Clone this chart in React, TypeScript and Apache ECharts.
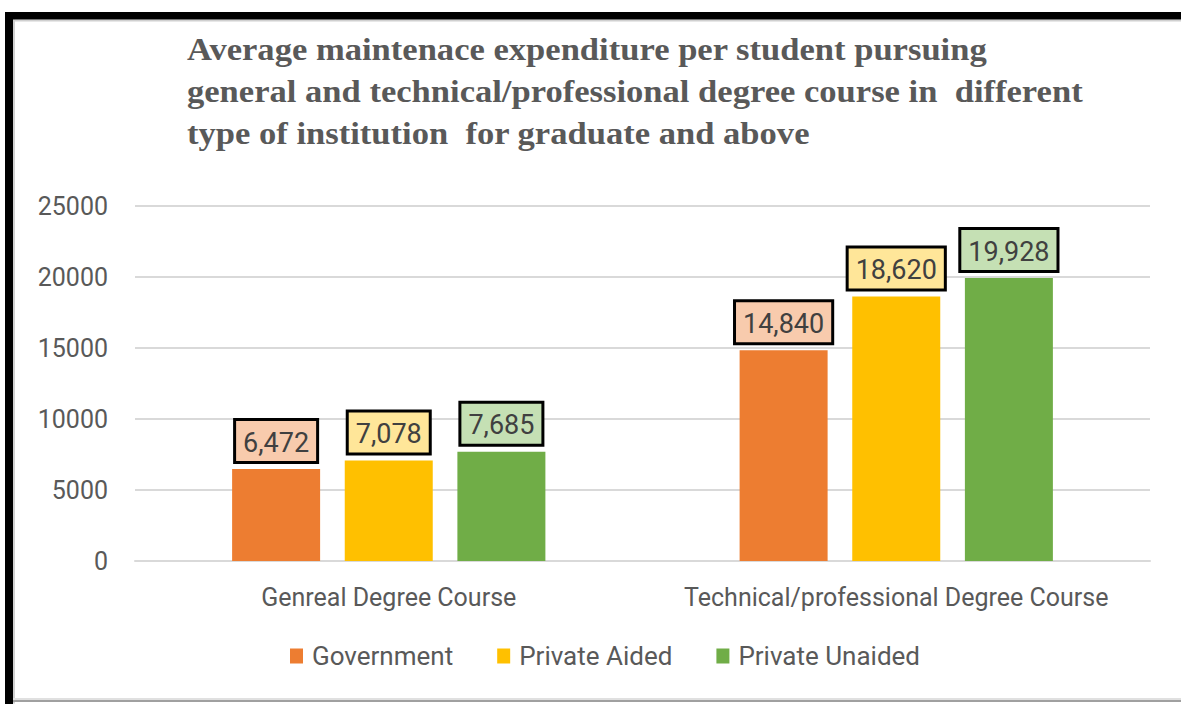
import React, { useEffect, useRef } from "react";
import * as echarts from "echarts";

const categories = ["Genreal Degree Course", "Technical/professional Degree Course"];
const seriesNames = ["Government", "Private Aided", "Private Unaided"];
const government = [6472, 14840];
const privateAided = [7078, 18620];
const privateUnaided = [7685, 19928];
const yTicks = [0, 5000, 10000, 15000, 20000, 25000];
const titleLines = [
  "Average maintenace expenditure per student pursuing",
  "general and technical/professional degree course in  different",
  "type of institution  for graduate and above",
];

const barColors = ["#ED7D31", "#FFC000", "#70AD47"];
const labelBg = ["#F8CBAD", "#FFE699", "#C5E0B4"];
const FONT = "Roboto, 'Noto Sans', sans-serif";

export default function App() {
  const ref = useRef<HTMLDivElement>(null);
  useEffect(() => {
    if (!ref.current) return;
    const chart = echarts.init(ref.current, null, { renderer: "svg" });
    const values = [government, privateAided, privateUnaided];
    chart.setOption({
      animation: false,
      backgroundColor: "#ffffff",
      textStyle: { fontFamily: FONT },
      graphic: [
        { type: "rect", shape: { x: 5, y: 12, width: 8, height: 692 }, style: { fill: "#000" }, z: 100 },
        { type: "rect", shape: { x: 5, y: 12, width: 1176, height: 7.5 }, style: { fill: "#000" }, z: 100 },
        { type: "rect", shape: { x: 13, y: 19.5, width: 1168, height: 2 }, style: { fill: "#d0d0d0" }, z: 99 },
        { type: "rect", shape: { x: 13, y: 19.5, width: 2, height: 684 }, style: { fill: "#d0d0d0" }, z: 99 },
        { type: "rect", shape: { x: 13, y: 698, width: 1168, height: 2 }, style: { fill: "#e0e0e0" }, z: 99 },
        { type: "rect", shape: { x: 13, y: 700, width: 1168, height: 2 }, style: { fill: "#a0a0a0" }, z: 99 },
        ...titleLines.map((t, i) => ({
          type: "text",
          x: 187,
          y: 34 + i * 42,
          scaleX: 1.115,
          style: {
            text: t,
            fill: "#595959",
            font: "bold 31px 'Liberation Serif', 'Times New Roman', serif",
          },
        })),
      ],
      legend: {
        left: 285,
        top: 638,
        itemWidth: 13,
        itemHeight: 15,
        itemGap: 44,
        icon: "rect",
        textStyle: { fontSize: 26, color: "#595959", fontFamily: FONT, padding: [0, 0, 0, 4] },
        data: seriesNames,
      },
      grid: { left: 135, right: 31, top: 206, bottom: 143 },
      xAxis: {
        type: "category",
        data: categories,
        axisLine: { lineStyle: { color: "#d9d9d9", width: 2 } },
        axisTick: { show: false },
        axisLabel: { fontSize: 25, color: "#595959", margin: 24, interval: 0, fontFamily: FONT },
      },
      yAxis: {
        type: "value",
        min: yTicks[0],
        max: yTicks[yTicks.length - 1],
        interval: 5000,
        axisLine: { show: false },
        axisTick: { show: false },
        axisLabel: {
          fontSize: 25,
          color: "#595959",
          margin: 27,
          fontFamily: FONT,
          formatter: (v: number) => String(v),
        },
        splitLine: { lineStyle: { color: "#d9d9d9", width: 2 } },
      },
      series: seriesNames.map((name, i) => ({
        name,
        type: "bar",
        data: values[i],
        barWidth: 88,
        barGap: "28%",
        itemStyle: { color: barColors[i] },
        label: {
          show: true,
          position: "top",
          distance: 8,
          formatter: (p: any) => Number(p.value).toLocaleString("en-US"),
          fontSize: 27,
          color: "#404040",
          fontFamily: FONT,
          backgroundColor: labelBg[i],
          borderColor: "#000",
          borderWidth: 3,
          padding: [8, 7, 5, 7],
        },
      })),
    });
    return () => chart.dispose();
  }, []);
  return (
    <div
      ref={ref}
      style={{ position: "fixed", left: 0, top: 0, width: 1181, height: 704 }}
    />
  );
}
